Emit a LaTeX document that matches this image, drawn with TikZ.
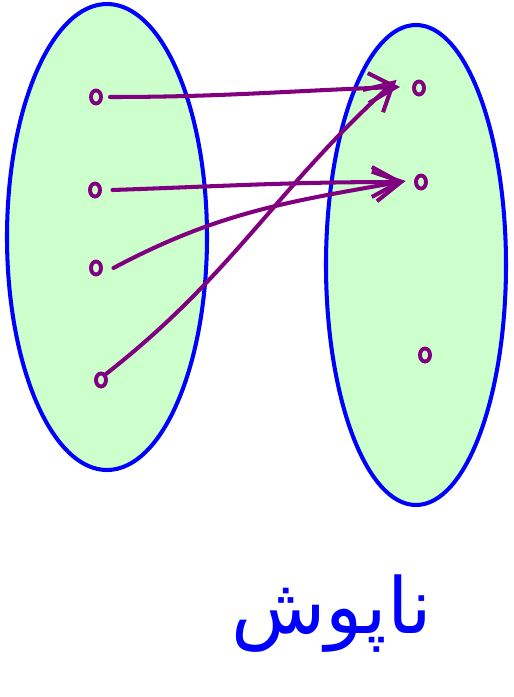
\documentclass[tikz,border=0pt]{standalone}
\usepackage{fontspec}
\usetikzlibrary{arrows.meta, shapes.geometric}
\TeXXeTstate=1
\newfontfamily\arabicfont[Script=Arabic]{DejaVu Sans}
\definecolor{set-fill}{HTML}{CCFFCC}
\definecolor{set-line}{HTML}{0000FF}
\definecolor{map-purple}{HTML}{800080}

\begin{document}
\begin{tikzpicture}[x=0.02cm, y=-0.02cm,
    setbox/.style={draw=set-line, fill=set-fill, line width=2.3pt},
    elem/.style={draw=map-purple, line width=2.2pt, ellipse, minimum width=0.2cm,
                 minimum height=0.26cm, inner sep=0pt},
    mapto/.style={draw=map-purple, line width=2.3pt, line cap=round,
                  -{Straight Barb[length=0.55cm, width=0.6cm, line width=2.3pt]}}]
    \useasboundingbox (0,0) rectangle (514,697);
    % the two sets
    \draw[setbox] (107,237) ellipse [x radius=100, y radius=233];
    \draw[setbox] (416,265) ellipse [x radius=90, y radius=240];
    % elements
    \node[elem] (a1) at (96,97) {};
    \node[elem] (a2) at (95,190) {};
    \node[elem] (a3) at (96,268) {};
    \node[elem] (a4) at (101,380) {};
    \node[elem] (b1) at (419,88) {};
    \node[elem] (b2) at (421,182) {};
    \node[elem] (b3) at (425,355) {};
    % the mapping
    \draw[mapto] ([xshift=4]a1.east) to[out=0, in=182] ([xshift=-8, yshift=4]b1.south west);
    \draw[mapto] ([xshift=6]a2.east) to[out=2, in=180] ([xshift=-6]b2.west);
    \draw[mapto] ([xshift=6]a3.east) to[out=28, in=190] ([xshift=-6, yshift=4]b2.south west);
    \draw[mapto] (a4.north east) to[out=38, in=222] ([xshift=-10, yshift=8]b1.south west);
    % label
    \node[text=set-line, font=\arabicfont\fontsize{44}{48}\selectfont] (lbl) at (332,614)
        {\beginR ناپوش\endR};
\end{tikzpicture}
\end{document}
